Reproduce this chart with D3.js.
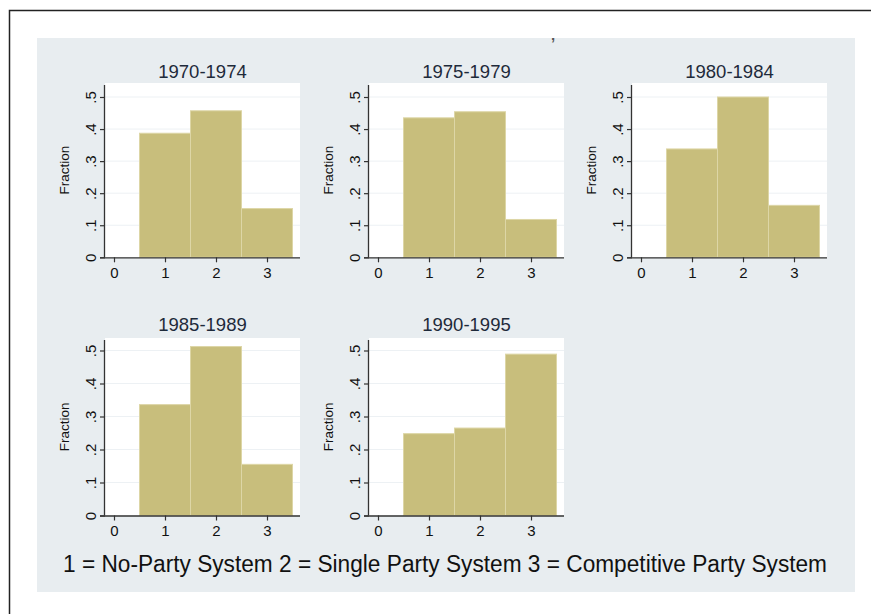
<!DOCTYPE html>
<html><head><meta charset="utf-8">
<script src="https://cdn.jsdelivr.net/npm/d3@7"></script>
<style>html,body{margin:0;padding:0;background:#fff;}svg{display:block;}</style>
</head><body>
<script>
// ---- data ----
const periods = ["1970-1974","1975-1979","1980-1984","1985-1989","1990-1995"];
const categories = [1, 2, 3];
const noParty     = [0.387, 0.435, 0.338, 0.336, 0.248];
const singleParty = [0.457, 0.454, 0.500, 0.512, 0.265];
const competitive = [0.152, 0.118, 0.162, 0.155, 0.489];
const xTicks = [0, 1, 2, 3];
const yTicks = [0, 0.1, 0.2, 0.3, 0.4, 0.5];
const yTickLabels = ["0", ".1", ".2", ".3", ".4", ".5"];
const yTitle = "Fraction";
const caption = "1 = No-Party System 2 = Single Party System 3 = Competitive Party System";

// ---- layout ----
const W = 871, H = 614;
const svg = d3.select("body").append("svg").attr("width", W).attr("height", H);
const font = "'Liberation Sans', Arial, Helvetica, sans-serif";

svg.append("rect").attr("x",0).attr("y",0).attr("width",W).attr("height",H).attr("fill","#fff");
// outer frame (left & top visible)
svg.append("path").attr("d", `M9.5,${H} L9.5,10.5 L${W},10.5`).attr("fill","none").attr("stroke","#222").attr("stroke-width",1.5);
// graph region
svg.append("rect").attr("x",37).attr("y",38).attr("width",818).attr("height",554).attr("fill","#e8edf0");
// stray mark
svg.append("text").attr("x",551).attr("y",48).attr("font-family",font).attr("font-size",15).attr("font-weight","bold").attr("fill","#555").text("’");

const colAxisX = [105, 369, 632];
const rows = [
  {top: 83, axisY: 257.3, y5: 97.0, titleY: 78},
  {top: 338, axisY: 515.5, y5: 350.5, titleY: 330.5}
];
const series = [noParty, singleParty, competitive];

periods.forEach((p, i) => {
  const r = rows[Math.floor(i / 3)];
  const ax = colAxisX[i % 3];
  const right = ax + 195;
  const x = d3.scaleLinear().domain([0, 3]).range([ax + 9, ax + 162]);
  const y = d3.scaleLinear().domain([0, 0.5]).range([r.axisY, r.y5]);
  const g = svg.append("g");

  // plot area
  g.append("rect").attr("x", ax).attr("y", r.top).attr("width", right - ax).attr("height", r.axisY - r.top).attr("fill", "#fff");
  // gridlines
  g.selectAll("line.grid").data(yTicks.slice(1)).join("line")
    .attr("x1", ax).attr("x2", right).attr("y1", d => y(d)).attr("y2", d => y(d))
    .attr("stroke", "#edf1f4").attr("stroke-width", 1);

  // bars
  const vals = categories.map((c, k) => ({c, v: series[k][i]}));
  g.selectAll("rect.bar").data(vals).join("rect")
    .attr("x", d => x(d.c - 0.5)).attr("width", d => x(d.c + 0.5) - x(d.c - 0.5))
    .attr("y", d => y(d.v)).attr("height", d => y(0) - y(d.v))
    .attr("fill", "#c8be7c").attr("stroke", "#ddd6a6").attr("stroke-width", 1);

  // y axis
  const yAxis = d3.axisLeft(y).tickValues(yTicks).tickSize(5).tickPadding(3)
    .tickFormat((d, k) => yTickLabels[k]);
  const ya = g.append("g").attr("transform", `translate(${ax},0)`).call(yAxis);
  ya.select(".domain").attr("d", `M-0.5,${r.top + 2}V${r.axisY}`).attr("stroke", "#333").attr("stroke-width", 1.3);
  ya.selectAll(".tick line").attr("stroke", "#333").attr("stroke-width", 1.2);
  ya.selectAll(".tick text")
    .attr("font-family", font).attr("font-size", 15).attr("fill", "#111")
    .attr("x", null).attr("dy", null)
    .attr("text-anchor", "middle")
    .attr("transform", "translate(-9,0) rotate(-90)");

  // x axis
  const xAxis = d3.axisBottom(x).tickValues(xTicks).tickSize(5).tickPadding(5).tickFormat(d3.format("d"));
  const xa = g.append("g").attr("transform", `translate(0,${r.axisY})`).call(xAxis);
  xa.select(".domain").attr("d", `M${ax - 5},0.5H${right}`).attr("stroke", "#333").attr("stroke-width", 1.3);
  xa.selectAll(".tick line").attr("stroke", "#333").attr("stroke-width", 1.2);
  xa.selectAll(".tick text").attr("font-family", font).attr("font-size", 15).attr("fill", "#111");

  // y title
  g.append("text")
    .attr("x", 0).attr("y", 0).attr("text-anchor", "middle")
    .attr("font-family", font).attr("font-size", 13.5).attr("fill", "#111")
    .text(yTitle)
    .attr("transform", `translate(${ax - 36},${(r.top + r.axisY) / 2}) rotate(-90)`);

  // panel title
  g.append("text").attr("x", (ax + right) / 2).attr("y", r.titleY).attr("text-anchor", "middle")
    .attr("font-family", font).attr("font-size", 18.5).attr("fill", "#1e2a3a").text(p);
});

// caption
svg.append("text").attr("x", 63).attr("y", 572)
  .attr("font-family", font).attr("font-size", 23).attr("fill", "#111")
  .attr("textLength", 764).attr("lengthAdjust", "spacingAndGlyphs")
  .text(caption);
</script>
</body></html>
